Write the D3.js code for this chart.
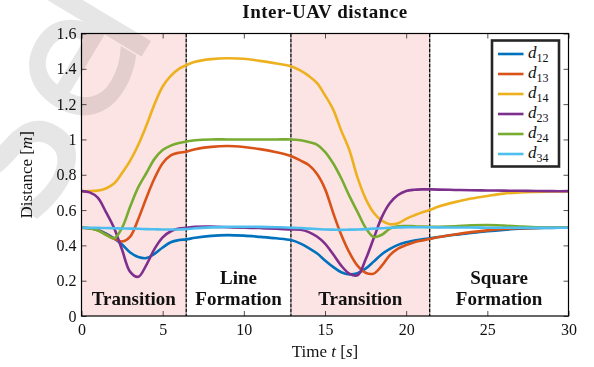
<!DOCTYPE html>
<html>
<head>
<meta charset="utf-8">
<script src="https://cdn.jsdelivr.net/npm/d3@7"></script>
<style>
  body { margin: 0; background: #fff; }
  svg { display: block; }
  text { font-family: "Liberation Serif", "DejaVu Serif", serif; fill: #111; }
</style>
</head>
<body>
<svg id="chart" width="594" height="367"></svg>
<script>
// Sample times [s] shared by all distance series
const time = [0, 0.5, 1, 1.5, 2, 2.5, 3, 3.5, 4, 4.5, 5, 5.5, 6, 6.45, 7, 8, 9, 10, 11, 12, 12.9,
  13.5, 14, 14.5, 15, 15.5, 16, 16.5, 17, 17.5, 18, 18.5, 19, 19.5, 20, 20.5, 21, 21.45,
  22, 23, 24, 25, 26, 27, 28, 29, 30];

// Inter-UAV distances [m]
const d12 = [0.5, 0.497, 0.487, 0.468, 0.44, 0.405, 0.36, 0.334, 0.328, 0.352, 0.388, 0.418, 0.43, 0.434, 0.443, 0.454, 0.458, 0.455, 0.448, 0.44, 0.43,
  0.41, 0.385, 0.355, 0.315, 0.278, 0.248, 0.236, 0.242, 0.268, 0.308, 0.35, 0.38, 0.403, 0.418, 0.428, 0.435, 0.44,
  0.447, 0.46, 0.47, 0.48, 0.488, 0.494, 0.497, 0.499, 0.5];
const d13 = [0.5, 0.497, 0.486, 0.463, 0.438, 0.422, 0.45, 0.55, 0.67, 0.78, 0.865, 0.91, 0.925, 0.93, 0.945, 0.958, 0.963, 0.957, 0.945, 0.928, 0.906,
  0.88, 0.855, 0.805, 0.72, 0.585, 0.46, 0.36, 0.285, 0.245, 0.24, 0.285, 0.345, 0.382, 0.402, 0.418, 0.428, 0.436,
  0.447, 0.462, 0.475, 0.485, 0.493, 0.497, 0.499, 0.5, 0.5];
const d14 = [0.707, 0.707, 0.71, 0.722, 0.75, 0.81, 0.88, 0.97, 1.08, 1.2, 1.3, 1.36, 1.4, 1.42, 1.44, 1.455, 1.46, 1.457, 1.445, 1.43, 1.415,
  1.39, 1.36, 1.32, 1.25, 1.17, 1.05, 0.94, 0.785, 0.665, 0.585, 0.54, 0.52, 0.525, 0.55, 0.57, 0.588, 0.6,
  0.62, 0.645, 0.665, 0.68, 0.693, 0.7, 0.703, 0.705, 0.706];
const d23 = [0.707, 0.7, 0.67, 0.59, 0.5, 0.375, 0.25, 0.222, 0.29, 0.38, 0.445, 0.48, 0.495, 0.5, 0.505, 0.506, 0.503, 0.5, 0.498, 0.495, 0.49,
  0.488, 0.475, 0.45, 0.41, 0.35, 0.285, 0.24, 0.23, 0.32, 0.44, 0.56, 0.64, 0.685, 0.708, 0.715, 0.717, 0.717,
  0.716, 0.714, 0.712, 0.711, 0.71, 0.709, 0.708, 0.707, 0.707];
const d24 = [0.5, 0.497, 0.485, 0.46, 0.44, 0.5, 0.62, 0.73, 0.81, 0.89, 0.94, 0.965, 0.98, 0.988, 0.995, 1.0, 1.0, 1.0, 1.0, 1.0, 1.0,
  0.995, 0.985, 0.97, 0.93, 0.865, 0.78, 0.68, 0.59, 0.5, 0.448, 0.46, 0.495, 0.508, 0.51, 0.508, 0.506, 0.505,
  0.505, 0.508, 0.513, 0.515, 0.512, 0.507, 0.503, 0.5, 0.5];
const d34 = [0.5, 0.5, 0.499, 0.498, 0.497, 0.496, 0.495, 0.494, 0.492, 0.491, 0.49, 0.49, 0.49, 0.492, 0.497, 0.502, 0.505, 0.505, 0.505, 0.503, 0.5,
  0.498, 0.495, 0.493, 0.49, 0.489, 0.488, 0.489, 0.49, 0.492, 0.495, 0.497, 0.5, 0.501, 0.503, 0.503, 0.503, 0.503,
  0.502, 0.501, 0.501, 0.5, 0.5, 0.5, 0.5, 0.5, 0.5];

const seriesNames = ["12", "13", "14", "23", "24", "34"];
const seriesColors = ["#0072BD", "#D95319", "#EDB120", "#7E2F8E", "#77AC30", "#4DBEEE"];
const seriesValues = [d12, d13, d14, d23, d24, d34];

// Mission phases
const phaseStart = [0, 6.45, 12.9, 21.45];
const phaseEnd = [6.45, 12.9, 21.45, 30];
const phaseLabel = [["Transition"], ["Line", "Formation"], ["Transition"], ["Square", "Formation"]];
const phaseShaded = [true, false, true, false];

const xTicks = [0, 5, 10, 15, 20, 25, 30];
const yTicks = [0, 0.2, 0.4, 0.6, 0.8, 1, 1.2, 1.4, 1.6];

const svg = d3.select("#chart");
const plotLeft = 81.5, plotRight = 568.5, plotTop = 33.5, plotBottom = 316;

const x = d3.scaleLinear().domain([0, 30]).range([plotLeft, plotRight]);
const y = d3.scaleLinear().domain([0, 1.6]).range([plotBottom, plotTop]);

// shaded transition phases
svg.append("g").selectAll("rect")
  .data(phaseStart.map((s, i) => ({ s, e: phaseEnd[i], shaded: phaseShaded[i] })).filter(d => d.shaded))
  .join("rect")
  .attr("x", d => x(d.s)).attr("y", plotTop)
  .attr("width", d => x(d.e) - x(d.s)).attr("height", plotBottom - plotTop)
  .attr("fill", "#fde4e4");

// faint background lettering, blended over the shading
const wmSize = 170;
const wm = svg.append("text")
  .attr("transform", "translate(145,48) rotate(-59)")
  .attr("x", -1.389 * wmSize + 24)
  .attr("y", 0)
  .style("font-family", "'DejaVu Sans', sans-serif")
  .style("font-size", wmSize + "px")
  .style("fill", "#e6e6e6")
  .style("stroke", "#e6e6e6")
  .style("stroke-width", 3)
  .style("mix-blend-mode", "multiply");
wm.append("tspan").text("Se");
wm.append("tspan").attr("dx", -24).text("l");

// phase boundaries
svg.append("g").selectAll("line")
  .data(phaseStart.filter(d => d > 0))
  .join("line")
  .attr("x1", d => x(d)).attr("x2", d => x(d))
  .attr("y1", plotTop).attr("y2", plotBottom)
  .attr("stroke", "#000").attr("stroke-width", 1.3)
  .attr("stroke-dasharray", "4,1");

// phase labels
const phaseG = svg.append("g");
phaseLabel.forEach((lines, i) => {
  const cx = x((phaseStart[i] + phaseEnd[i]) / 2);
  lines.forEach((txt, j) => {
    phaseG.append("text")
      .attr("x", cx)
      .attr("y", 305 - (lines.length - 1 - j) * 21.5)
      .attr("text-anchor", "middle")
      .style("font-size", "19px")
      .style("font-weight", "bold")
      .text(txt);
  });
});

// distance curves
const line = d3.line()
  .x((d, i) => x(time[i]))
  .y(d => y(d))
  .curve(d3.curveCatmullRom.alpha(0.5));

svg.append("g").selectAll("path")
  .data(seriesValues)
  .join("path")
  .attr("d", d => line(d))
  .attr("fill", "none")
  .attr("stroke", (d, i) => seriesColors[i])
  .attr("stroke-width", 2.6)
  .attr("stroke-linejoin", "round");

// axes with inward ticks on all four sides
const fmt = d => String(+d.toFixed(1));
const axB = svg.append("g").attr("transform", `translate(0,${plotBottom})`)
  .call(d3.axisBottom(x).tickValues(xTicks).tickSize(-5).tickPadding(5).tickFormat(fmt));
const axL = svg.append("g").attr("transform", `translate(${plotLeft},0)`)
  .call(d3.axisLeft(y).tickValues(yTicks).tickSize(-5).tickPadding(5).tickFormat(fmt));
svg.append("g").attr("transform", `translate(0,${plotTop})`)
  .call(d3.axisTop(x).tickValues(xTicks).tickSize(-5).tickFormat(""));
svg.append("g").attr("transform", `translate(${plotRight},0)`)
  .call(d3.axisRight(y).tickValues(yTicks).tickSize(-5).tickFormat(""));
svg.selectAll(".domain").remove();
svg.selectAll(".tick line").attr("stroke", "#262626").attr("stroke-width", 0.8);
svg.selectAll(".tick text")
  .style("font-family", "'Liberation Serif', serif")
  .style("font-size", "16px")
  .attr("fill", "#111");
axB.selectAll(".tick text").attr("dy", "0.9em");

svg.append("rect")
  .attr("x", plotLeft).attr("y", plotTop)
  .attr("width", plotRight - plotLeft).attr("height", plotBottom - plotTop)
  .attr("fill", "none").attr("stroke", "#000").attr("stroke-width", 1.2);

// titles
svg.append("text")
  .attr("x", (plotLeft + plotRight) / 2).attr("y", 18)
  .attr("text-anchor", "middle")
  .style("font-size", "19px").style("font-weight", "bold")
  .style("letter-spacing", "0.5px")
  .text("Inter-UAV distance");

const xl = svg.append("text")
  .attr("x", (plotLeft + plotRight) / 2).attr("y", 357)
  .attr("text-anchor", "middle")
  .style("font-size", "17px");
xl.append("tspan").text("Time ");
xl.append("tspan").style("font-style", "italic").text("t");
xl.append("tspan").text(" [");
xl.append("tspan").style("font-style", "italic").text("s");
xl.append("tspan").text("]");

const yl = svg.append("text")
  .attr("transform", `translate(32,${(plotTop + plotBottom) / 2}) rotate(-90)`)
  .attr("text-anchor", "middle")
  .style("font-size", "17px");
yl.append("tspan").text("Distance [");
yl.append("tspan").style("font-style", "italic").text("m");
yl.append("tspan").text("]");

// legend
const lg = svg.append("g");
lg.append("rect")
  .attr("x", 492).attr("y", 40.5)
  .attr("width", 67).attr("height", 126)
  .attr("fill", "#fff").attr("stroke", "#262626").attr("stroke-width", 2.6);
seriesNames.forEach((name, i) => {
  const ry = 54 + i * 20;
  lg.append("line")
    .attr("x1", 498).attr("x2", 523.5)
    .attr("y1", ry).attr("y2", ry)
    .attr("stroke", seriesColors[i]).attr("stroke-width", 2.6);
  const t = lg.append("text")
    .attr("x", 528).attr("y", ry + 4)
    .style("font-size", "17px");
  t.append("tspan").style("font-style", "italic").text("d");
  t.append("tspan").attr("dy", 4).style("font-size", "12px").text(name);
});
</script>
</body>
</html>
